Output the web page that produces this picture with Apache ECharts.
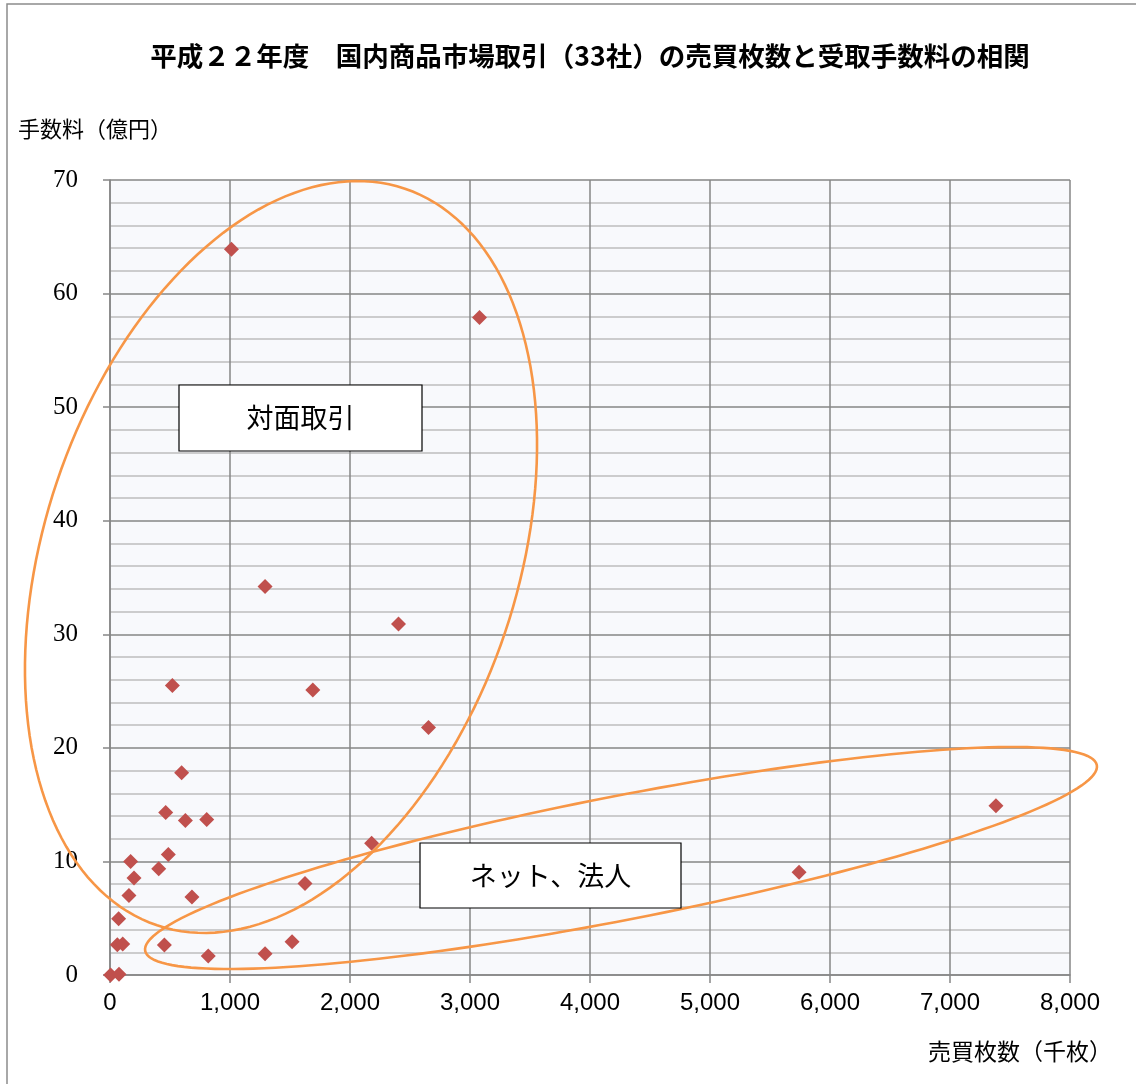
<!DOCTYPE html>
<html><head><meta charset="utf-8">
<script src="https://cdn.jsdelivr.net/npm/echarts@6/dist/echarts.min.js"></script>
<style>html,body{margin:0;padding:0;background:#fff}#c{width:1136px;height:1084px}</style>
</head><body><div id="c"></div>
<script>
const titleText = '平成２２年度　国内商品市場取引（33社）の売買枚数と受取手数料の相関';
const yAxisName = '手数料（億円）';
const xAxisName = '売買枚数（千枚）';
const labelFaceToFace = '対面取引';
const labelNet = 'ネット、法人';

// 売買枚数（千枚）
const volume = [1012, 3079, 1292, 2404, 520, 1690, 2654, 597, 464, 628, 806, 2180,
  172, 486, 406, 200, 1625, 158, 683, 72, 61, 106, 453, 819, 1292, 1517, 5, 75, 5742, 7383];
// 手数料（億円）
const fee = [63.9, 57.9, 34.2, 30.9, 25.5, 25.1, 21.8, 17.8, 14.3, 13.6, 13.7, 11.6,
  10.0, 10.6, 9.35, 8.55, 8.05, 7.0, 6.87, 4.96, 2.67, 2.73, 2.64, 1.67, 1.88, 2.93, 0, 0.06, 9.05, 14.9];

const points = volume.map((v, i) => [v, fee[i]]);

function ellipsePts(cx, cy, a, b, ux, uy) {
  const vx = -uy, vy = ux;
  const pts = [];
  for (let i = 0; i < 180; i++) {
    const t = i / 180 * Math.PI * 2;
    pts.push([cx + a * Math.cos(t) * ux + b * Math.sin(t) * vx,
              cy + a * Math.cos(t) * uy + b * Math.sin(t) * vy]);
  }
  return pts;
}
const th1 = 18.6 * Math.PI / 180;
const th2 = 11.05 * Math.PI / 180;

const chart = echarts.init(document.getElementById('c'));
chart.setOption({
  backgroundColor: '#ffffff',
  animation: false,
  title: {
    text: titleText, left: 585, top: 38, textAlign: 'center',
    textStyle: { fontFamily: 'Noto Sans CJK JP', fontSize: 26.5, fontWeight: 'bold', color: '#000' }
  },
  grid: { left: 110, right: 66, top: 180, bottom: 109, show: true, backgroundColor: '#f8f9fc', borderWidth: 0 },
  xAxis: {
    type: 'value', min: 0, max: 8000, interval: 1000,
    axisLine: { show: true, lineStyle: { color: '#868686', width: 1.5 } },
    axisTick: { show: true, length: 8, lineStyle: { color: '#868686', width: 1.5 } },
    axisLabel: { margin: 16, fontFamily: 'Liberation Sans', fontSize: 24, color: '#000' },
    splitLine: { show: true, lineStyle: { color: '#868686', width: 1.5 } }
  },
  yAxis: {
    type: 'value', min: 0, max: 70, interval: 10,
    axisLine: { show: true, lineStyle: { color: '#868686', width: 1.5 } },
    axisTick: { show: true, length: 7, lineStyle: { color: '#868686', width: 1.5 } },
    axisLabel: { margin: 32, fontFamily: 'Liberation Serif', fontSize: 25, color: '#000' },
    splitLine: { show: true, lineStyle: { color: '#868686', width: 1.5 } },
    minorTick: { show: false, splitNumber: 5 },
    minorSplitLine: { show: true, lineStyle: { color: '#bdbdbd', width: 1.5 } }
  },
  series: [{
    type: 'scatter', data: points, symbol: 'diamond', symbolSize: 15,
    itemStyle: { color: '#c0504d', opacity: 1 }, z: 5
  }],
  graphic: [
    { type: 'rect', shape: { x: 7, y: 4, width: 1300, height: 1300 }, style: { fill: 'none', stroke: '#8c8c8c', lineWidth: 1.5 }, z: 0, silent: true },
    { type: 'text', left: 18, top: 118, style: { text: yAxisName, fontFamily: 'Noto Sans CJK JP', fontSize: 22, fill: '#000' } },
    { type: 'text', right: 24, top: 1040, style: { text: xAxisName, fontFamily: 'Noto Sans CJK JP', fontSize: 23, fill: '#000' } },
    { type: 'polygon', shape: { points: ellipsePts(281, 557, 388.6, 236.4, Math.sin(th1), -Math.cos(th1)) },
      style: { fill: 'none', stroke: '#f79646', lineWidth: 2.6 }, z: 10, silent: true },
    { type: 'polygon', shape: { points: ellipsePts(621, 858, 484.8, 61.9, Math.cos(th2), -Math.sin(th2)) },
      style: { fill: 'none', stroke: '#f79646', lineWidth: 2.6 }, z: 10, silent: true },
    { type: 'rect', shape: { x: 179, y: 385, width: 243, height: 66 }, style: { fill: '#fff', stroke: '#000', lineWidth: 1.2 }, z: 20 },
    { type: 'text', x: 300.5, y: 418, style: { text: labelFaceToFace, align: 'center', verticalAlign: 'middle', fontFamily: 'Noto Sans CJK JP', fontSize: 27, fill: '#000' }, z: 21 },
    { type: 'rect', shape: { x: 420, y: 843, width: 261, height: 65 }, style: { fill: '#fff', stroke: '#000', lineWidth: 1.2 }, z: 20 },
    { type: 'text', x: 550.5, y: 876, style: { text: labelNet, align: 'center', verticalAlign: 'middle', fontFamily: 'Noto Sans CJK JP', fontSize: 27, fill: '#000' }, z: 21 }
  ]
});
</script></body></html>
